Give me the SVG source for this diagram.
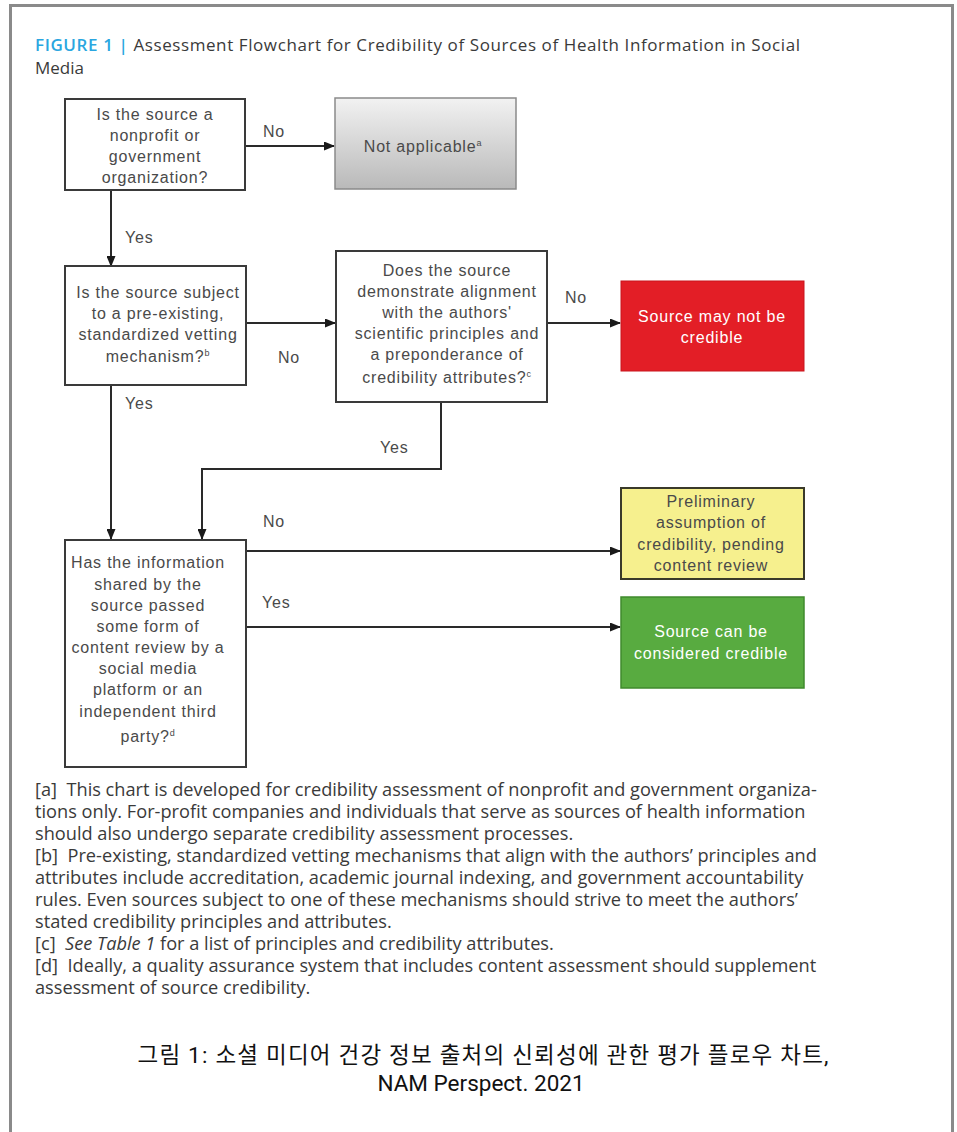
<svg xmlns="http://www.w3.org/2000/svg" width="957" height="1132" viewBox="0 0 957 1132">
<defs>
<style>
.frame{fill:none;stroke:#8a8a8a;stroke-width:3}
.box{fill:#fff;stroke:#3a3a3a;stroke-width:2}
.bt{font-family:"Liberation Sans",Arial,sans-serif;font-size:16px;letter-spacing:0.8px;fill:#4a4a4a;text-anchor:middle}
.wt{font-family:"Liberation Sans",Arial,sans-serif;font-size:16px;letter-spacing:0.8px;fill:#fff;text-anchor:middle}
.lbl{font-family:"Liberation Sans",Arial,sans-serif;font-size:16px;letter-spacing:0.8px;fill:#4a4a4a}
.conn{fill:none;stroke:#2a2a2a;stroke-width:2}
.fn{font-family:"Open Sans","Liberation Sans",sans-serif;font-size:18.2px;fill:#3a3a3a;white-space:pre}
.title{font-family:"Open Sans","Liberation Sans",sans-serif;font-size:17px;fill:#3a3a3a}
.cap{font-family:Roboto,"Noto Sans CJK KR",sans-serif;font-size:22.5px;fill:#111;text-anchor:middle}
</style>
<linearGradient id="gray" x1="0" y1="0" x2="0" y2="1">
<stop offset="0" stop-color="#f2f2f2"/>
<stop offset="1" stop-color="#b9b9b9"/>
</linearGradient>
<marker id="arr" markerWidth="11" markerHeight="9" refX="10" refY="4.5" orient="auto" markerUnits="userSpaceOnUse">
<path d="M0,0 L11,4.5 L0,9 z" fill="#1a1a1a"/>
</marker>
</defs>
<rect width="957" height="1132" fill="#fff"/>
<path class="frame" d="M10.5,1132 V5.5 H952.5 V1132"/>

<g id="title">
<text class="title" x="35" y="51" textLength="765" lengthAdjust="spacing"><tspan fill="#2aa6e0" font-weight="600">FIGURE 1 |</tspan> Assessment Flowchart for Credibility of Sources of Health Information in Social</text>
<text class="title" x="35" y="74">Media</text>
</g>

<g id="connectors">
<line class="conn" x1="246" y1="146" x2="334" y2="146" marker-end="url(#arr)"/>
<line class="conn" x1="111" y1="191" x2="111" y2="266" marker-end="url(#arr)"/>
<line class="conn" x1="246" y1="323" x2="335" y2="323" marker-end="url(#arr)"/>
<line class="conn" x1="547" y1="323" x2="620" y2="323" marker-end="url(#arr)"/>
<line class="conn" x1="111" y1="385" x2="111" y2="539" marker-end="url(#arr)"/>
<polyline class="conn" points="441,402 441,469 202,469 202,539" marker-end="url(#arr)"/>
<line class="conn" x1="246" y1="551" x2="620" y2="551" marker-end="url(#arr)"/>
<line class="conn" x1="246" y1="627" x2="620" y2="627" marker-end="url(#arr)"/>
<text class="lbl" x="263" y="137">No</text>
<text class="lbl" x="125" y="243">Yes</text>
<text class="lbl" x="278" y="363">No</text>
<text class="lbl" x="565" y="303">No</text>
<text class="lbl" x="125" y="409">Yes</text>
<text class="lbl" x="380" y="453">Yes</text>
<text class="lbl" x="263" y="527">No</text>
<text class="lbl" x="262" y="608">Yes</text>
</g>

<g id="q1">
<rect class="box" x="65" y="99" width="180" height="91"/>
<text class="bt" x="155" y="120">Is the source a</text>
<text class="bt" x="155" y="141">nonprofit or</text>
<text class="bt" x="155" y="162">government</text>
<text class="bt" x="155" y="183">organization?</text>
</g>

<g id="not-applicable">
<rect x="335" y="98" width="181" height="91" fill="url(#gray)" stroke="#8a8a8a" stroke-width="1.5"/>
<text class="bt" x="423" y="152">Not applicable<tspan font-size="9" dy="-6">a</tspan></text>
</g>

<g id="q2">
<rect class="box" x="65" y="266" width="181" height="119"/>
<text class="bt" x="158" y="298">Is the source subject</text>
<text class="bt" x="158" y="319">to a pre-existing,</text>
<text class="bt" x="158" y="340">standardized vetting</text>
<text class="bt" x="158" y="362">mechanism?<tspan font-size="9" dy="-6">b</tspan></text>
</g>

<g id="q3">
<rect class="box" x="336" y="251" width="211" height="151"/>
<text class="bt" x="447" y="276">Does the source</text>
<text class="bt" x="447" y="297">demonstrate alignment</text>
<text class="bt" x="447" y="318">with the authors'</text>
<text class="bt" x="447" y="339">scientific principles and</text>
<text class="bt" x="447" y="360">a preponderance of</text>
<text class="bt" x="447" y="383">credibility attributes?<tspan font-size="9" dy="-6">c</tspan></text>
</g>

<g id="not-credible">
<rect x="621" y="281" width="183" height="90" fill="#e31e26" stroke="#c9151c" stroke-width="1"/>
<text class="wt" x="712" y="322">Source may not be</text>
<text class="wt" x="712" y="343">credible</text>
</g>

<g id="q4">
<rect class="box" x="65" y="540" width="181" height="227"/>
<text class="bt" x="148" y="568">Has the information</text>
<text class="bt" x="148" y="590">shared by the</text>
<text class="bt" x="148" y="611">source passed</text>
<text class="bt" x="148" y="632">some form of</text>
<text class="bt" x="148" y="653">content review by a</text>
<text class="bt" x="148" y="674">social media</text>
<text class="bt" x="148" y="695">platform or an</text>
<text class="bt" x="148" y="717">independent third</text>
<text class="bt" x="148" y="742">party?<tspan font-size="9" dy="-6">d</tspan></text>
</g>

<g id="preliminary">
<rect x="621" y="488" width="183" height="91" fill="#f6f08e" stroke="#3a3a2a" stroke-width="2"/>
<text class="bt" x="711" y="507" fill="#333">Preliminary</text>
<text class="bt" x="711" y="528" fill="#333">assumption of</text>
<text class="bt" x="711" y="550" fill="#333">credibility, pending</text>
<text class="bt" x="711" y="571" fill="#333">content review</text>
</g>

<g id="credible">
<rect x="621" y="597" width="183" height="91" fill="#58ab40" stroke="#3f8a2c" stroke-width="1.5"/>
<text class="wt" x="711" y="637">Source can be</text>
<text class="wt" x="711" y="659">considered credible</text>
</g>

<g id="footnotes">
<text class="fn" x="35" y="796" xml:space="preserve">[a]  This chart is developed for credibility assessment of nonprofit and government organiza-</text>
<text class="fn" x="35" y="818">tions only. For-profit companies and individuals that serve as sources of health information</text>
<text class="fn" x="35" y="840">should also undergo separate credibility assessment processes.</text>
<text class="fn" x="35" y="862" xml:space="preserve">[b]  Pre-existing, standardized vetting mechanisms that align with the authors’ principles and</text>
<text class="fn" x="35" y="884">attributes include accreditation, academic journal indexing, and government accountability</text>
<text class="fn" x="35" y="906">rules. Even sources subject to one of these mechanisms should strive to meet the authors’</text>
<text class="fn" x="35" y="928">stated credibility principles and attributes.</text>
<text class="fn" x="35" y="950" xml:space="preserve">[c]  <tspan font-style="italic">See Table 1</tspan> for a list of principles and credibility attributes.</text>
<text class="fn" x="35" y="972" xml:space="preserve">[d]  Ideally, a quality assurance system that includes content assessment should supplement</text>
<text class="fn" x="35" y="994">assessment of source credibility.</text>
</g>

<g id="caption">
<text class="cap" x="483" y="1063" textLength="691" lengthAdjust="spacing">그림 1: 소셜 미디어 건강 정보 출처의 신뢰성에 관한 평가 플로우 차트,</text>
<text class="cap" x="481" y="1091">NAM Perspect. 2021</text>
</g>
</svg>
